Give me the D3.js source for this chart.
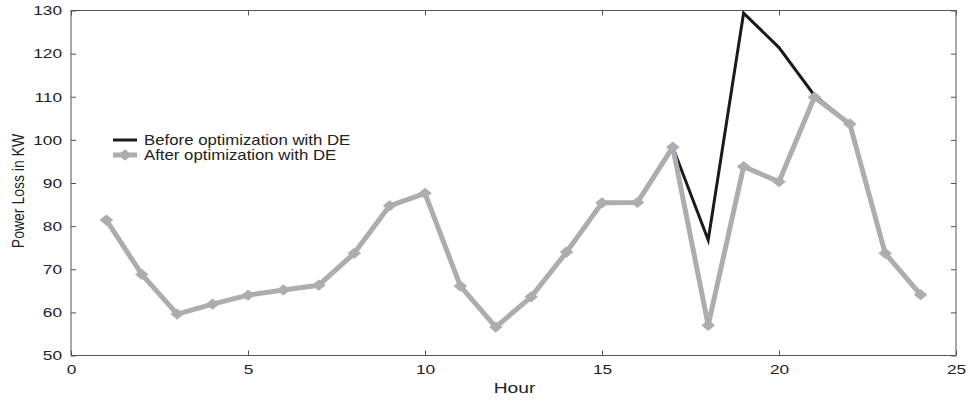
<!DOCTYPE html>
<html>
<head>
<meta charset="utf-8">
<script src="https://cdn.jsdelivr.net/npm/d3@7"></script>
<style>
  body { margin: 0; background: #fff; }
  text { font-family: "Liberation Sans", Arial, sans-serif; fill: #222; }
</style>
</head>
<body>
<script>
var hours = [1, 2, 3, 4, 5, 6, 7, 8, 9, 10, 11, 12, 13, 14, 15, 16, 17, 18, 19, 20, 21, 22, 23, 24];
var before = [81.4, 68.8, 59.6, 61.9, 64.0, 65.2, 66.3, 73.7, 84.7, 87.6, 66.1, 56.6,
              63.6, 74.0, 85.4, 85.5, 98.3, 76.8, 129.4, 121.4, 110.3, 103.7, 73.7, 64.1];
var after = [81.4, 68.8, 59.6, 61.9, 64.0, 65.2, 66.3, 73.7, 84.7, 87.6, 66.1, 56.6,
             63.6, 74.0, 85.4, 85.5, 98.3, 57.0, 93.8, 90.3, 109.9, 103.7, 73.7, 64.1];
var xTicks = [0, 5, 10, 15, 20, 25];
var yTicks = [50, 60, 70, 80, 90, 100, 110, 120, 130];
var seriesNames = ["Before optimization with DE", "After optimization with DE"];

var width = 970, height = 401;
var margin = {top: 10.5, right: 14, bottom: 45.5, left: 71};
var stretch = 1.28; // the picture's text is widened horizontally

var svg = d3.select("body").append("svg")
  .attr("width", width)
  .attr("height", height);

var x = d3.scaleLinear().domain([0, 25]).range([margin.left, width - margin.right]);
var y = d3.scaleLinear().domain([50, 130]).range([height - margin.bottom, margin.top]);

var axisColor = "#555";
var gray = "#acadb0";

// frame
svg.append("rect")
  .attr("x", x(0)).attr("y", y(130))
  .attr("width", x(25) - x(0)).attr("height", y(50) - y(130))
  .attr("fill", "none").attr("stroke", axisColor).attr("stroke-width", 1);

function styleAxis(g) {
  g.select(".domain").remove();
  g.selectAll(".tick line").attr("stroke", axisColor);
  g.selectAll("text").attr("fill", "#222").style("font-size", "13.5px");
}

// bottom axis, inward ticks
svg.append("g")
  .attr("transform", "translate(0," + y(50) + ")")
  .call(d3.axisBottom(x).tickValues(xTicks).tickSize(-5).tickPadding(9))
  .call(styleAxis)
  .selectAll("text").attr("transform", "scale(" + stretch + ",1)");

// top mirrored ticks
svg.append("g")
  .attr("transform", "translate(0," + y(130) + ")")
  .call(d3.axisTop(x).tickValues(xTicks).tickSize(-5).tickFormat(""))
  .call(styleAxis);

// left axis
svg.append("g")
  .attr("transform", "translate(" + x(0) + ",0)")
  .call(d3.axisLeft(y).tickValues(yTicks).tickSize(-5).tickPadding(8))
  .call(styleAxis)
  .selectAll("text").attr("transform", "scale(" + stretch + ",1)").attr("x", -9 / stretch);

// right mirrored ticks
svg.append("g")
  .attr("transform", "translate(" + x(25) + ",0)")
  .call(d3.axisRight(y).tickValues(yTicks).tickSize(-5).tickFormat(""))
  .call(styleAxis);

// axis labels
svg.append("text")
  .attr("transform", "translate(" + (x(12.5) + 1) + ",393) scale(" + stretch + ",1)")
  .attr("text-anchor", "middle")
  .style("font-size", "15px")
  .text("Hour");

svg.append("text")
  .attr("transform", "translate(24,191) scale(1.2,1) rotate(-90)")
  .attr("text-anchor", "middle")
  .style("font-size", "14px")
  .text("Power Loss in KW");

var line = d3.line()
  .x(function(d, i) { return x(hours[i]); })
  .y(function(d) { return y(d); });

svg.append("path")
  .datum(before)
  .attr("d", line)
  .attr("fill", "none")
  .attr("stroke", "#1a1a1a")
  .attr("stroke-width", 3)
  .attr("stroke-linejoin", "miter");

svg.append("path")
  .datum(after)
  .attr("d", line)
  .attr("fill", "none")
  .attr("stroke", gray)
  .attr("stroke-width", 5)
  .attr("stroke-linejoin", "round");

var diamond = d3.symbol().type(d3.symbolSquare).size(64);

svg.append("g").selectAll("path")
  .data(after)
  .join("path")
  .attr("d", diamond)
  .attr("transform", function(d, i) {
    return "translate(" + x(hours[i]) + "," + y(d) + ") scale(1.2,1) rotate(45)";
  })
  .attr("fill", gray);

// legend
var legend = svg.append("g").attr("transform", "translate(113,140)");
legend.append("line")
  .attr("x1", 0).attr("x2", 24).attr("y1", 0).attr("y2", 0)
  .attr("stroke", "#1a1a1a").attr("stroke-width", 3);
legend.append("line")
  .attr("x1", 0).attr("x2", 24).attr("y1", 15).attr("y2", 15)
  .attr("stroke", gray).attr("stroke-width", 5);
legend.append("path")
  .attr("d", diamond)
  .attr("transform", "translate(12,15) scale(1.2,1) rotate(45)")
  .attr("fill", gray);

legend.selectAll("text.lbl")
  .data(seriesNames)
  .join("text")
  .attr("class", "lbl")
  .attr("transform", function(d, i) { return "translate(31," + (i * 15 + 5) + ") scale(1.2,1)"; })
  .style("font-size", "14px")
  .text(function(d) { return d; });
</script>
</body>
</html>
